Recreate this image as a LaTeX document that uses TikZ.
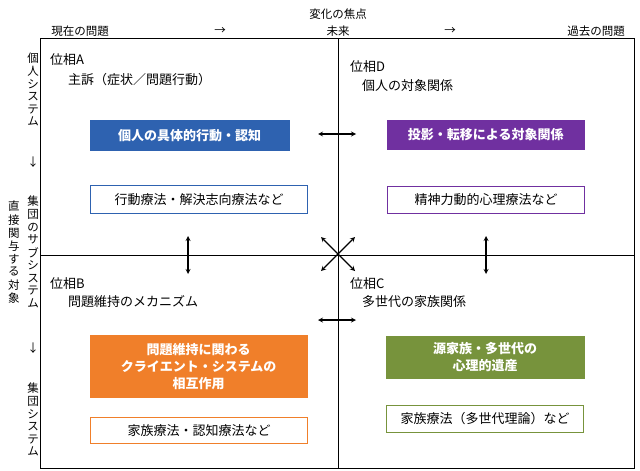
\documentclass[tikz,border=0pt]{standalone}
\usepackage{fontspec}
\setmainfont{Noto Sans CJK JP}
\usetikzlibrary{positioning}
\newcommand{\tatelbl}[1]{\begin{tabular}{@{}c@{}}#1\end{tabular}}
\definecolor{qblue}{HTML}{2E62B0}
\definecolor{qpurple}{HTML}{7030A0}
\definecolor{qorange}{HTML}{F07F2A}
\definecolor{qgreen}{HTML}{77933C}
\tikzset{
  lbl/.style = {anchor = west, inner sep = 0pt, font = \fontsize{13}{15}\selectfont},
  fillbox/.style = {draw = #1, fill = #1, text = white, font = \fontsize{13}{17}\selectfont\bfseries, align = center, anchor = north west, inner sep = 0pt},
  linebox/.style = {draw = #1, line width = 1pt, font = \fontsize{13}{15}\selectfont, anchor = north west, inner sep = 0pt},
  side/.style = {font = \fontsize{11.5}{12.4}\selectfont, inner sep = 0pt},
  dbl/.style = {<->, >=stealth, line width = 1.2pt}
}
\begin{document}
\begin{tikzpicture}[x = 1pt, y = -1pt]
\useasboundingbox (0,0) rectangle (640,471);
% frame and axes
\draw[line width = 1pt] (40,38) rectangle (634,468);
\draw (338,38) -- (338,468);
\draw (40,255) -- (634,255);
% top axis
\node[side] (focus) at (338,14) {変化の焦点};
\node[side] (now) at (80,31) {現在の問題};
\node[side] (ar1) at (220,31) {→};
\node[side] (future) at (338,31) {未来};
\node[side] (ar2) at (450,31) {→};
\node[side] (past) at (596,31) {過去の問題};
% left axis
\node[side, anchor = north] (indiv) at (33,53) {\tatelbl{個\\人\\シ\\ス\\テ\\ム}};
\node[side] (dn1) at (33,162) {↓};
\node[side, anchor = north] (subsys) at (33,196) {\tatelbl{集\\団\\の\\サ\\ブ\\シ\\ス\\テ\\ム}};
\node[side] (dn2) at (33,348) {↓};
\node[side, anchor = north] (group) at (33,383) {\tatelbl{集\\団\\シ\\ス\\テ\\ム}};
\node[side, anchor = north] (target) at (14,201) {\tatelbl{直\\接\\関\\与\\す\\る\\対\\象}};
% phase A
\node[lbl] (pa) at (50,60) {位相A};
\node[lbl] (pasub) at (68,80) {主訴（症状／問題行動）};
\node[fillbox = qblue, minimum width = 199pt, minimum height = 30pt] (pabox) at (90,120) {個人の具体的行動・認知};
\node[linebox = qblue, minimum width = 217pt, minimum height = 28pt] (path) at (90,185) {行動療法・解決志向療法など};
% phase D
\node[lbl] (pd) at (350,67) {位相D};
\node[lbl] (pdsub) at (362,86) {個人の対象関係};
\node[fillbox = qpurple, minimum width = 197pt, minimum height = 29pt] (pdbox) at (387,120) {投影・転移による対象関係};
\node[linebox = qpurple, minimum width = 197pt, minimum height = 27pt] (pdth) at (387,186) {精神力動的心理療法など};
% phase B
\node[lbl] (pb) at (50,284) {位相B};
\node[lbl] (pbsub) at (68,302) {問題維持のメカニズム};
\node[fillbox = qorange, minimum width = 217pt, minimum height = 62pt] (pbbox) at (90,335) {問題維持に関わる\\クライエント・システムの\\相互作用};
\node[linebox = qorange, minimum width = 217pt, minimum height = 26pt] (pbth) at (90,417) {家族療法・認知療法など};
% phase C
\node[lbl] (pc) at (350,284) {位相C};
\node[lbl] (pcsub) at (362,302) {多世代の家族関係};
\node[fillbox = qgreen, minimum width = 198pt, minimum height = 42pt] (pcbox) at (386,336) {源家族・多世代の\\心理的遺産};
\node[linebox = qgreen, minimum width = 197pt, minimum height = 27pt] (pcth) at (386,405) {家族療法（多世代理論）など};
% links
\coordinate (h1a) at (318,134); \coordinate (h1b) at (356,134);
\coordinate (h2a) at (318,320); \coordinate (h2b) at (356,320);
\coordinate (v1a) at (188,236); \coordinate (v1b) at (188,274);
\coordinate (v2a) at (486,236); \coordinate (v2b) at (486,274);
\coordinate (xa) at (321,237); \coordinate (xb) at (355,271);
\coordinate (xc) at (355,237); \coordinate (xd) at (321,271);
\draw[dbl] (h1a) -- (h1b);
\draw[dbl] (h2a) -- (h2b);
\draw[dbl] (v1a) -- (v1b);
\draw[dbl] (v2a) -- (v2b);
\draw[dbl] (xa) -- (xb);
\draw[dbl] (xc) -- (xd);
\end{tikzpicture}
\end{document}
